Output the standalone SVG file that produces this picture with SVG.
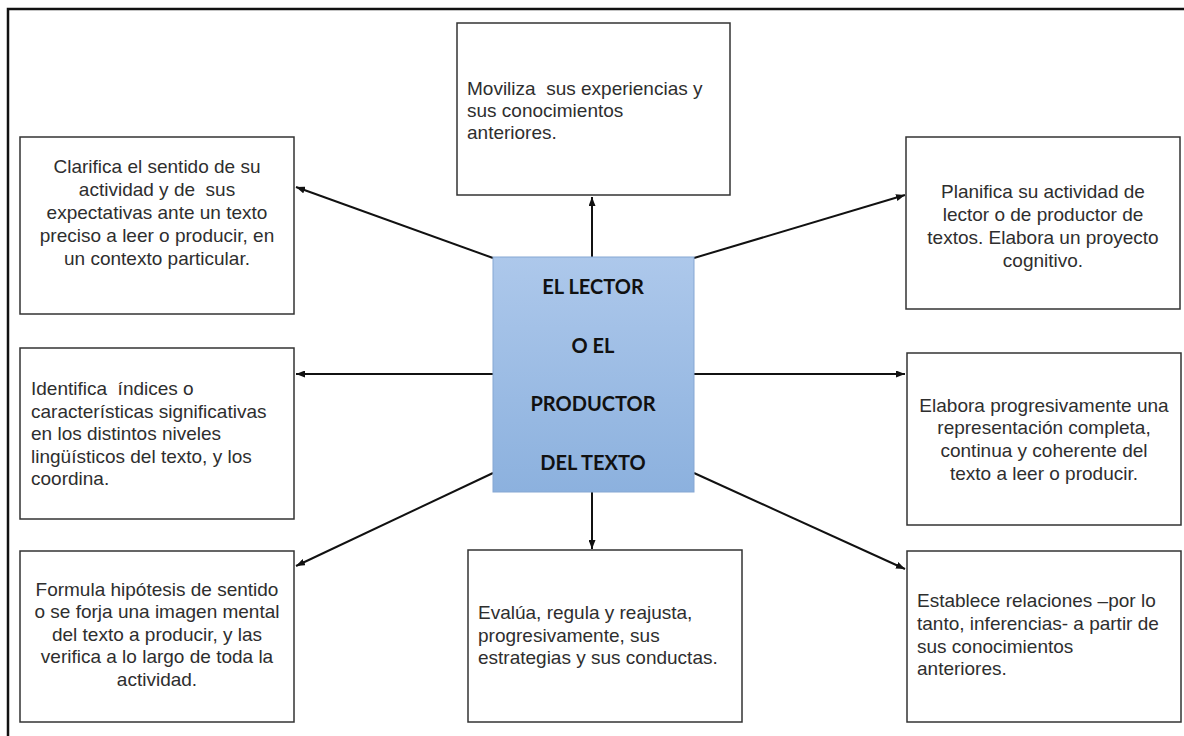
<svg xmlns="http://www.w3.org/2000/svg" width="1184" height="736" viewBox="0 0 1184 736">
<defs>
<linearGradient id="cg" x1="0" y1="0" x2="0" y2="1">
<stop offset="0" stop-color="#adc8eb"/>
<stop offset="1" stop-color="#8cb1de"/>
</linearGradient>
<marker id="ah" markerUnits="userSpaceOnUse" markerWidth="9" markerHeight="7" refX="9" refY="3.5" orient="auto">
<path d="M0,0 L9,3.5 L0,7 z" fill="#111"/>
</marker>
</defs>
<style>
.box{fill:#fff;stroke:#333;stroke-width:1.5}
.t{font-family:"Liberation Sans",Arial,sans-serif;font-size:19px;fill:#2e2e2e}
.c{text-anchor:middle}
.ct{font-family:Lato,"Open Sans",sans-serif;font-weight:bold;font-size:20px;fill:#111;text-anchor:middle}
.con{stroke:#111;stroke-width:2;fill:none;marker-end:url(#ah)}
</style>
<rect x="0" y="0" width="1184" height="736" fill="#fff"/>
<rect x="8" y="9" width="1200" height="760" fill="none" stroke="#111" stroke-width="2.5"/>

<g id="connectors">
<path class="con" d="M493 258 L296 187"/>
<path class="con" d="M592 257 L592 197"/>
<path class="con" d="M694 258 L905 195"/>
<path class="con" d="M493 374 L296 374"/>
<path class="con" d="M694 374 L905 374"/>
<path class="con" d="M493 473 L296 566"/>
<path class="con" d="M592 492 L592 549"/>
<path class="con" d="M694 473 L905 569"/>
</g>

<g id="center">
<rect x="493" y="257" width="201" height="235" fill="url(#cg)" stroke="#86a7d3" stroke-width="1"/>
<text class="ct" x="593" y="294">EL LECTOR</text>
<text class="ct" x="593" y="353">O EL</text>
<text class="ct" x="593" y="411">PRODUCTOR</text>
<text class="ct" x="593" y="470">DEL TEXTO</text>
</g>

<g id="moviliza">
<rect class="box" x="457" y="23" width="273" height="172"/>
<text class="t" x="467" y="95" xml:space="preserve">Moviliza  sus experiencias y</text>
<text class="t" x="467" y="117">sus conocimientos</text>
<text class="t" x="467" y="139">anteriores.</text>
</g>

<g id="clarifica">
<rect class="box" x="20" y="137" width="274" height="177"/>
<text class="t c" x="157" y="173">Clarifica el sentido de su</text>
<text class="t c" x="157" y="196" xml:space="preserve">actividad y de  sus</text>
<text class="t c" x="157" y="219">expectativas ante un texto</text>
<text class="t c" x="157" y="242">preciso a leer o producir, en</text>
<text class="t c" x="157" y="265">un contexto particular.</text>
</g>

<g id="planifica">
<rect class="box" x="906" y="137" width="274" height="172"/>
<text class="t c" x="1043" y="198">Planifica su actividad de</text>
<text class="t c" x="1043" y="221">lector o de productor de</text>
<text class="t c" x="1043" y="244">textos. Elabora un proyecto</text>
<text class="t c" x="1043" y="267">cognitivo.</text>
</g>

<g id="identifica">
<rect class="box" x="20" y="348" width="274" height="171"/>
<text class="t" x="31" y="395" xml:space="preserve">Identifica  índices o</text>
<text class="t" x="31" y="418">características significativas</text>
<text class="t" x="31" y="440">en los distintos niveles</text>
<text class="t" x="31" y="463">lingüísticos del texto, y los</text>
<text class="t" x="31" y="485">coordina.</text>
</g>

<g id="elabora">
<rect class="box" x="907" y="353" width="274" height="172"/>
<text class="t c" x="1044" y="412">Elabora progresivamente una</text>
<text class="t c" x="1044" y="434">representación completa,</text>
<text class="t c" x="1044" y="457">continua y coherente del</text>
<text class="t c" x="1044" y="480">texto a leer o producir.</text>
</g>

<g id="formula">
<rect class="box" x="20" y="551" width="274" height="171"/>
<text class="t c" x="157" y="596">Formula hipótesis de sentido</text>
<text class="t c" x="157" y="618">o se forja una imagen mental</text>
<text class="t c" x="157" y="641">del texto a producir, y las</text>
<text class="t c" x="157" y="663">verifica a lo largo de toda la</text>
<text class="t c" x="157" y="686">actividad.</text>
</g>

<g id="evalua">
<rect class="box" x="468" y="550" width="274" height="172"/>
<text class="t" x="478" y="619">Evalúa, regula y reajusta,</text>
<text class="t" x="478" y="642">progresivamente, sus</text>
<text class="t" x="478" y="664">estrategias y sus conductas.</text>
</g>

<g id="establece">
<rect class="box" x="907" y="551" width="274" height="171"/>
<text class="t" x="917" y="607">Establece relaciones –por lo</text>
<text class="t" x="917" y="630">tanto, inferencias- a partir de</text>
<text class="t" x="917" y="653">sus conocimientos</text>
<text class="t" x="917" y="675">anteriores.</text>
</g>
</svg>
